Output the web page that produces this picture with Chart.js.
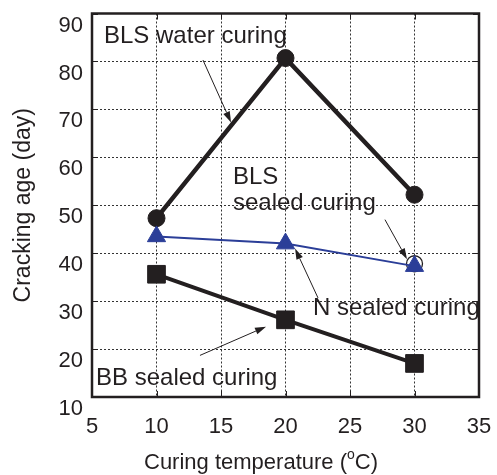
<!DOCTYPE html>
<html><head><meta charset="utf-8">
<script src="https://cdn.jsdelivr.net/npm/chart.js@4/dist/chart.umd.min.js"></script>
<style>html,body{margin:0;padding:0;background:#fff}#wrap{width:497px;height:475px}</style>
</head><body><div id="wrap"><canvas id="c" width="497" height="475"></canvas></div>
<script>
// ---- data ----
const temperatures = [10, 20, 30];
const blsWaterCuring = [47.3, 80.7, 52.2];
const nSealedCuring = [43.5, 42.0, 37.3];
const bbSealedCuring = [35.6, 26.1, 17.0];
const blsSealedTemps = [30];
const blsSealedCuring = [37.8];
const xTickValues = [5, 10, 15, 20, 25, 30, 35];
const yTickValues = [10, 20, 30, 40, 50, 60, 70, 80, 90];
const xTitleMain = 'Curing temperature (';
const xTitleSup = 'o';
const xTitleEnd = 'C)';
const yTitle = 'Cracking age (day)';

// annotations (label text + anchor in data units)
const labels = [
  {text: 'BLS water curing', x: 5.93, y: 85.25},
  {text: 'BLS', x: 15.93, y: 55.9},
  {text: 'sealed curing', x: 15.93, y: 50.3},
  {text: 'N sealed curing', x: 22.13, y: 28.4},
  {text: 'BB sealed curing', x: 5.31, y: 13.93}
];
const arrows = [
  {from: [13.6, 80.3], to: [15.78, 67.26]},
  {from: [27.71, 47.0], to: [29.42, 38.73]},
  {from: [22.52, 30.67], to: [20.74, 41.0]},
  {from: [13.37, 18.68], to: [18.49, 24.68]}
];

const INK = '#231f20';
const BLUE = '#2b3e98';
const FONT = "'Liberation Sans', Arial, sans-serif";

function pts(xs, ys) { return xs.map((x, i) => ({x: x, y: ys[i]})); }

const decor = {
  id: 'decor',
  afterDatasetsDraw(chart) {
    const {ctx, chartArea: a, scales: {x, y}} = chart;
    ctx.save();
    // inner tick marks
    ctx.strokeStyle = INK; ctx.lineWidth = 1; ctx.setLineDash([]);
    const L = 6;
    ctx.beginPath();
    xTickValues.forEach(v => { const px = Math.round(x.getPixelForValue(v)) + 0.5;
      ctx.moveTo(px, a.bottom); ctx.lineTo(px, a.bottom - L);
      ctx.moveTo(px, a.top); ctx.lineTo(px, a.top + L); });
    yTickValues.forEach(v => { const py = Math.round(y.getPixelForValue(v)) + 0.5;
      ctx.moveTo(a.left, py); ctx.lineTo(a.left + L, py);
      ctx.moveTo(a.right, py); ctx.lineTo(a.right - L, py); });
    ctx.stroke();
    // frame
    ctx.lineWidth = 2.5;
    ctx.strokeRect(a.left, a.top, a.right - a.left, a.bottom - a.top);
    // arrows
    ctx.lineWidth = 1; ctx.fillStyle = INK;
    arrows.forEach(ar => {
      const x1 = x.getPixelForValue(ar.from[0]), y1 = y.getPixelForValue(ar.from[1]);
      const x2 = x.getPixelForValue(ar.to[0]), y2 = y.getPixelForValue(ar.to[1]);
      const ang = Math.atan2(y2 - y1, x2 - x1);
      const hl = 11, hw = 3.5;
      const bx = x2 - Math.cos(ang) * hl, by = y2 - Math.sin(ang) * hl;
      ctx.beginPath(); ctx.moveTo(x1, y1); ctx.lineTo(bx, by); ctx.stroke();
      ctx.beginPath(); ctx.moveTo(x2, y2);
      ctx.lineTo(bx + Math.sin(ang) * hw, by - Math.cos(ang) * hw);
      ctx.lineTo(bx - Math.sin(ang) * hw, by + Math.cos(ang) * hw);
      ctx.closePath(); ctx.fill();
    });
    // labels
    ctx.font = '24px ' + FONT; ctx.textAlign = 'left'; ctx.textBaseline = 'middle';
    labels.forEach(l => ctx.fillText(l.text, x.getPixelForValue(l.x), y.getPixelForValue(l.y)));
    // x-axis title with superscript
    ctx.textBaseline = 'alphabetic';
    let tx = a.left + 52; const ty = a.bottom + 72;
    ctx.font = '22px ' + FONT;
    ctx.fillText(xTitleMain, tx, ty); tx += ctx.measureText(xTitleMain).width;
    ctx.font = '14px ' + FONT;
    ctx.fillText(xTitleSup, tx, ty - 10); tx += ctx.measureText(xTitleSup).width;
    ctx.font = '22px ' + FONT;
    ctx.fillText(xTitleEnd, tx, ty);
    ctx.restore();
  }
};

new Chart(document.getElementById('c'), {
  type: 'line',
  data: {
    datasets: [
      {label: 'BLS sealed curing', data: pts(blsSealedTemps, blsSealedCuring), showLine: false,
       pointStyle: 'circle', pointRadius: 8, pointBackgroundColor: '#ffffff', pointBorderColor: INK,
       pointBorderWidth: 1.3, order: 3},
      {label: 'BLS water curing', data: pts(temperatures, blsWaterCuring), borderColor: INK, borderWidth: 4.5,
       pointStyle: 'circle', pointRadius: 8.5, pointBackgroundColor: INK, pointBorderColor: INK, pointBorderWidth: 1, order: 2},
      {label: 'BB sealed curing', data: pts(temperatures, bbSealedCuring), borderColor: INK, borderWidth: 4,
       pointStyle: 'rect', pointRadius: 12.5, pointBackgroundColor: INK, pointBorderColor: INK, pointBorderWidth: 1, order: 2},
      {label: 'N sealed curing', data: pts(temperatures, nSealedCuring), borderColor: BLUE, borderWidth: 2,
       pointStyle: 'triangle', pointRadius: 10.5, pointBackgroundColor: BLUE, pointBorderColor: BLUE, pointBorderWidth: 1, order: 1}
    ]
  },
  options: {
    responsive: false, animation: false, devicePixelRatio: 1,
    layout: {padding: {top: 10, right: 18, left: 0, bottom: 0}},
    plugins: {legend: {display: false}, tooltip: {enabled: false}},
    elements: {line: {tension: 0}},
    scales: {
      x: {type: 'linear', min: 5, max: 35,
        afterBuildTicks: s => { s.ticks = xTickValues.map(v => ({value: v})); },
        afterFit: s => { s.height = 78; s.paddingLeft = 0; s.paddingRight = 0; },
        ticks: {font: {family: FONT, size: 22}, color: INK, padding: 17},
        grid: {color: '#333', lineWidth: 1, drawTicks: false},
        border: {display: false, dash: [2, 2]},
        title: {display: false, text: 'Curing temperature (°C)'}
      },
      y: {type: 'linear', min: 10, max: 90,
        afterBuildTicks: s => { s.ticks = yTickValues.map(v => ({value: v})); },
        afterFit: s => { s.width = 92; s.paddingTop = 0; s.paddingBottom = 0; },
        ticks: {font: {family: FONT, size: 22}, color: INK, padding: 9, labelOffset: 12},
        grid: {color: '#333', lineWidth: 1, drawTicks: false},
        border: {display: false, dash: [2, 2]},
        title: {display: true, text: yTitle, font: {family: FONT, size: 23}, color: INK, padding: {top: 10, bottom: 0}}
      }
    }
  },
  plugins: [decor]
});
</script></body></html>
